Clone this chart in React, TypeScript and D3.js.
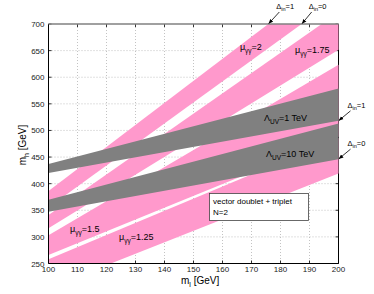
import React from 'react';
import * as d3 from 'd3';

// band outlines, [m_l, m_h] in GeV
const mu2Band = [[100, 386], [175.8, 700], [187.3, 700], [100, 355]];
const mu175Band = [[100, 341], [194.2, 700], [200, 700], [200, 651.6], [100, 316]];
const mu15Band = [[100, 303], [200, 623.4], [200, 488], [100, 266]];
const mu125Band = [[100, 258], [200, 486], [200, 419], [121.5, 250], [100, 250]];
const pinkBands = [mu2Band, mu175Band, mu15Band, mu125Band];

const lambda1Band = [[100, 437], [200, 579], [200, 518], [100, 420]];
const lambda10Band = [[100, 370], [200, 513], [200, 446], [100, 347]];
const grayBands = [lambda1Band, lambda10Band];

const xTicks = [100, 110, 120, 130, 140, 150, 160, 170, 180, 190, 200];
const yTicks = [250, 300, 350, 400, 450, 500, 550, 600, 650, 700];

// labels: [m_l, m_h, main, sub, rest]
const bandLabels = [
  [166, 651, 'μ', 'γγ', '=2'],
  [185, 645, 'μ', 'γγ', '=1.75'],
  [174.3, 517, 'Λ', 'UV', '=1 TeV'],
  [175, 451, 'Λ', 'UV', '=10 TeV'],
  [107.4, 310, 'μ', 'γγ', '=1.5'],
  [124.3, 295, 'μ', 'γγ', '=1.25'],
];

// arrows: tip [m_l, m_h], text offset in px from tip, label
const arrowTips = [
  [175.8, 700, 8, -15, '=1'],
  [187.3, 700, 7, -15, '=0'],
  [200, 518, 9, -13, '=1'],
  [200, 446, 9, -13, '=0'],
];

const W = 374;
const H = 294;
const FONT = '"Liberation Sans", Arial, sans-serif';

export default function App() {
  const x = d3.scaleLinear().domain([100, 200]).range([48.5, 338.5]);
  const y = d3.scaleLinear().domain([250, 700]).range([263.5, 24]);
  const line = d3.line<number[]>().x((d) => x(d[0])).y((d) => y(d[1]));
  const [x0, x1] = x.range();
  const [y0, y1] = y.range();

  return (
    <div style={{ position: 'absolute', left: 0, top: 0 }}>
      <svg width={W} height={H} style={{ display: 'block', background: '#fff' }} fontFamily={FONT}>
        <defs>
          <marker id="ah" viewBox="0 0 10 10" refX="9" refY="5" markerWidth="6" markerHeight="6" orient="auto">
            <path d="M0,1 L10,5 L0,9 Z" fill="#000" />
          </marker>
        </defs>

        {/* grid */}
        {xTicks.slice(1, -1).map((t) => (
          <line key={'gx' + t} x1={x(t)} x2={x(t)} y1={y1} y2={y0} stroke="#b4b4b4" strokeWidth={0.8} strokeDasharray="1,2" />
        ))}
        {yTicks.slice(1, -1).map((t) => (
          <line key={'gy' + t} x1={x0} x2={x1} y1={y(t)} y2={y(t)} stroke="#b4b4b4" strokeWidth={0.8} strokeDasharray="1,2" />
        ))}

        {/* ticks, inside */}
        {xTicks.map((t) => (
          <g key={'tx' + t} stroke="#000" strokeWidth={0.8}>
            <line x1={x(t)} x2={x(t)} y1={y0} y2={y0 - 3} />
            <line x1={x(t)} x2={x(t)} y1={y1} y2={y1 + 3} />
          </g>
        ))}
        {yTicks.map((t) => (
          <g key={'ty' + t} stroke="#000" strokeWidth={0.8}>
            <line x1={x0} x2={x0 + 3} y1={y(t)} y2={y(t)} />
            <line x1={x1} x2={x1 - 3} y1={y(t)} y2={y(t)} />
          </g>
        ))}
        <line x1={x1} x2={x1} y1={y1} y2={y0} stroke="#000" strokeWidth={1} />

        {pinkBands.map((b, i) => (
          <path key={'p' + i} d={line(b) + 'Z'} fill="#ff99cc" />
        ))}
        {grayBands.map((b, i) => (
          <path key={'g' + i} d={line(b) + 'Z'} fill="#808080" />
        ))}

        <line x1={x0} x2={x0} y1={y1} y2={y0} stroke="#000" strokeWidth={1} />
        <line x1={x0} x2={x1} y1={y0} y2={y0} stroke="#000" strokeWidth={1} />
        <line x1={x0} x2={x1} y1={y1} y2={y1} stroke="#808080" strokeWidth={1.6} />

        {/* tick labels */}
        {xTicks.map((t) => (
          <text key={'lx' + t} x={x(t)} y={y0 + 8.5} fontSize={8} textAnchor="middle" fill="#222">{t}</text>
        ))}
        {yTicks.map((t) => (
          <text key={'ly' + t} x={x0 - 4} y={y(t) + 3} fontSize={8} textAnchor="end" fill="#222">{t}</text>
        ))}

        {/* axis titles */}
        <text x={181} y={284} fontSize={10} fill="#000">
          m<tspan fontSize={7} dy={3}>l</tspan><tspan dy={-3}> [GeV]</tspan>
        </text>
        <text transform="translate(26,145) rotate(-90)" fontSize={10} textAnchor="middle" fill="#000">
          m<tspan fontSize={7} dy={3}>h</tspan><tspan dy={-3}> [GeV]</tspan>
        </text>

        {bandLabels.map(([mx, my, a, s, r], i) => (
          <text key={'bl' + i} x={x(mx as number)} y={y(my as number)} fontSize={9} fill="#000">
            {a}<tspan fontSize={6.5} dy={3}>{s}</tspan><tspan dy={-3}>{r}</tspan>
          </text>
        ))}

        {arrowTips.map(([mx, my, dx, dy, r], i) => {
          const tx = x(mx as number);
          const ty = y(my as number);
          return (
            <g key={'ar' + i}>
              <line x1={tx + (dx as number) + 3} y1={ty + (dy as number) + 3} x2={tx + 0.5} y2={ty - 0.5} stroke="#000" strokeWidth={0.8} markerEnd="url(#ah)" />
              <text x={tx + (dx as number)} y={ty + (dy as number)} fontSize={7.5} fill="#000">
                Δ<tspan fontSize={5.5} dy={2}>in</tspan><tspan dy={-2}>{r}</tspan>
              </text>
            </g>
          );
        })}

        {/* legend box */}
        <rect x={209.5} y={193.5} width={99} height={27} fill="#fff" stroke="#444" strokeWidth={0.8} />
        <text x={213} y={204} fontSize={8} fill="#000">vector doublet + triplet</text>
        <text x={213} y={215} fontSize={8} fill="#000">N=2</text>
      </svg>
    </div>
  );
}
